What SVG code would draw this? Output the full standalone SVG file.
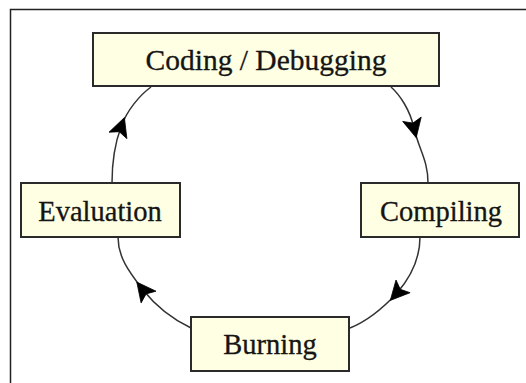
<svg xmlns="http://www.w3.org/2000/svg" width="526" height="383" viewBox="0 0 526 383">
<defs>
<style>
.box{fill:#ffffe3;stroke:#2a2a2a;stroke-width:2}
.lbl{font-family:"Liberation Serif","Times New Roman",serif;font-size:28.5px;fill:#151515;text-anchor:middle;stroke:#151515;stroke-width:0.3}
.edge{fill:none;stroke:#333;stroke-width:1.5}
.head{fill:#000;stroke:#000;stroke-width:0.8;stroke-linejoin:miter}
</style>
</defs>
<rect x="10.5" y="9.5" width="530" height="400" fill="#fff" stroke="#222" stroke-width="1.5"/>
<g id="connectors">
<path class="edge" d="M391,87 C400,95 410,110 414,128 C419,150 428,160 428,183"/>
<path class="edge" d="M420,237 C420,260 410,278 397,293 C385,306 370,320 350,328"/>
<path class="edge" d="M191,328 C170,318 155,305 143,290 C130,273 118,258 118,237"/>
<path class="edge" d="M112,183 C112,160 115,143 121,127 C127,110 140,95 151,87"/>
<polygon class="head" points="416.2,137.7 421.2,117.1 412.9,123.1 402.7,121.4"/>
<polygon class="head" points="390.3,300.4 410.1,292.7 400.3,289.3 396.0,280.0"/>
<polygon class="head" points="136.8,282.1 141.1,302.9 146.1,293.9 156.0,291.2"/>
<polygon class="head" points="124.4,117.6 109.0,132.2 119.3,131.7 126.9,138.7"/>
</g>
<g id="coding">
<rect class="box" x="93" y="33" width="346" height="53"/>
<text class="lbl" x="266" y="70" style="font-size:29.5px">Coding / Debugging</text>
</g>
<g id="compiling">
<rect class="box" x="361" y="183" width="158" height="54"/>
<text class="lbl" x="441" y="221">Compiling</text>
</g>
<g id="burning">
<rect class="box" x="191" y="317" width="158" height="54"/>
<text class="lbl" x="270" y="354">Burning</text>
</g>
<g id="evaluation">
<rect class="box" x="21" y="183" width="159" height="54"/>
<text class="lbl" x="100" y="221">Evaluation</text>
</g>
</svg>
